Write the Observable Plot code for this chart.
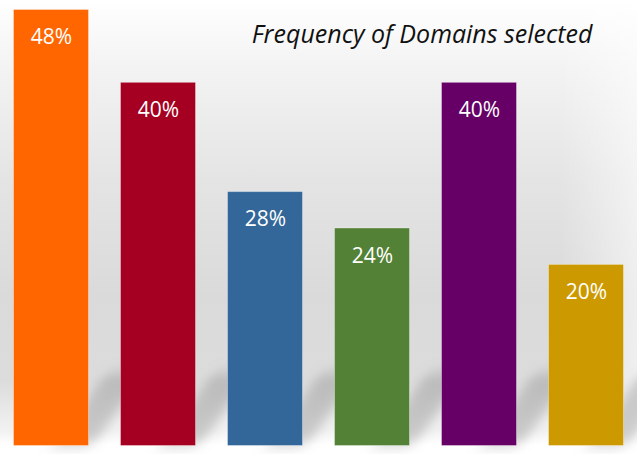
<!DOCTYPE html>
<html>
<head>
<meta charset="utf-8">
<script src="https://cdn.jsdelivr.net/npm/d3@7"></script>
<script src="https://cdn.jsdelivr.net/npm/@observablehq/plot@0.6"></script>
<style>
  html, body { margin: 0; padding: 0; background: #fff; }
  #chart {
    width: 637px; height: 454px; overflow: hidden; position: relative;
    background:
      linear-gradient(to right, rgba(255,255,255,0.0) 0%, rgba(255,255,255,0) 88%, rgba(255,255,255,0.55) 100%),
      linear-gradient(to bottom, #ffffff 0%, #f3f3f3 15%, #e4e4e4 40%, #dadada 65%, #dcdcdc 84%, #f2f2f2 95%, #ffffff 98%);
  }
  #chart svg { display: block; }
</style>
</head>
<body>
<div id="chart"></div>
<script>
const categories = ["Domain 1", "Domain 2", "Domain 3", "Domain 4", "Domain 5", "Domain 6"];
const values = [48, 40, 28, 24, 40, 20];
const labels = ["48%", "40%", "28%", "24%", "40%", "20%"];
const colors = ["#FF6600", "#A50021", "#336699", "#538135", "#660066", "#CC9900"];
const title = "Frequency of Domains selected";

const data = categories.map((c, i) => ({category: c, value: values[i], label: labels[i], color: colors[i]}));

const shadowBlur = `<filter id="shblur" x="-50%" y="-50%" width="200%" height="200%"><feGaussianBlur stdDeviation="7"/></filter>`;

const plot = Plot.plot({
  width: 637,
  height: 454,
  marginTop: 9,
  marginBottom: 8,
  marginLeft: 12,
  marginRight: 11,
  style: {background: "transparent"},
  x: {domain: categories, paddingInner: 0.286, paddingOuter: 0, axis: null},
  y: {domain: [0, 48], axis: null},
  marks: [
    // soft diagonal shadows cast behind the bars
    Plot.barY(data, {
      x: "category", y1: 0, y2: d => Math.min(d.value, 9),
      fill: "#8a8a8a", fillOpacity: 0.4,
      render(index, scales, values, dimensions, context, next) {
        const g = next(index, scales, values, dimensions, context);
        d3.select(g).selectAll("rect").each(function() {
          const r = d3.select(this);
          const x = +r.attr("x"), y = +r.attr("y"), w = +r.attr("width"), h = +r.attr("height");
          r.attr("transform", `translate(${x + w * 0.55},${y + h}) skewX(-35) translate(${-x},${-(y + h)})`)
           .attr("height", h * 0.9)
           .attr("y", y + h * 0.1)
           .attr("width", w * 0.5)
           .attr("filter", "url(#shblur)");
        });
        d3.select(g).insert(() => {
          const defs = document.createElementNS("http://www.w3.org/2000/svg", "defs");
          defs.innerHTML = shadowBlur;
          return defs;
        }, ":first-child");
        return g;
      }
    }),
    Plot.barY(data, {
      x: "category", y: "value",
      fill: d => d.color,
      stroke: "#ffffff", strokeOpacity: 0.35, strokeWidth: 1,
      inset: 0.5
    }),
    Plot.text(data, {
      x: "category", y: "value", text: "label",
      fill: "white", fontSize: 21, lineAnchor: "middle", dy: 28,
      fontFamily: "Open Sans"
    }),
    Plot.text([title], {
      frameAnchor: "top-right", text: d => d,
      dx: -34, dy: 25, lineAnchor: "middle",
      fontSize: 25, fontStyle: "italic", fontFamily: "Open Sans", fill: "#111"
    })
  ]
});
document.getElementById("chart").appendChild(plot);
</script>
</body>
</html>
